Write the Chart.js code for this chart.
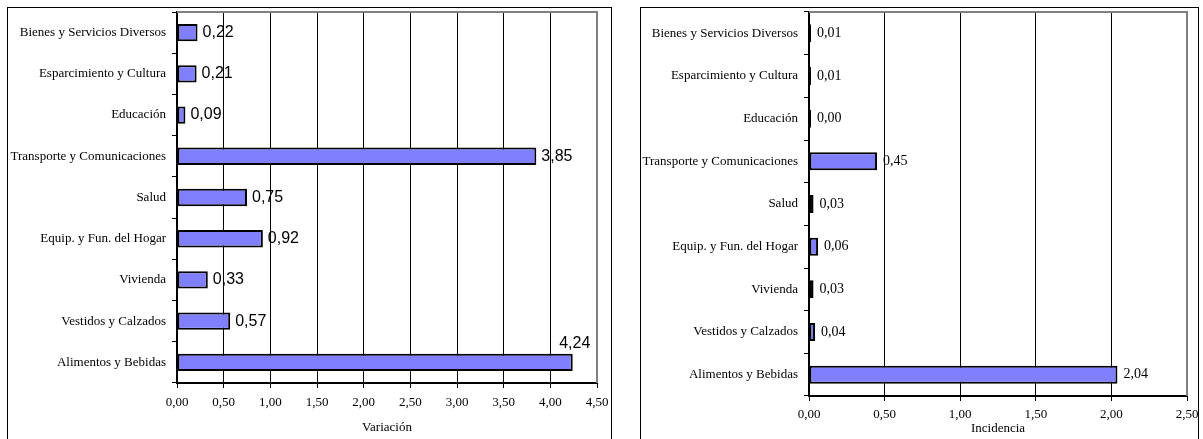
<!DOCTYPE html>
<html><head><meta charset="utf-8">
<script src="https://cdn.jsdelivr.net/npm/chart.js@4.4.1/dist/chart.umd.min.js"></script>
<style>
html,body{margin:0;padding:0;background:#fff;width:1203px;height:439px;overflow:hidden;}
.panel{position:absolute;border:1px solid #000;box-sizing:border-box;}
canvas{position:absolute;}
</style></head><body>
<div class="panel" style="left:7px;top:7px;width:605px;height:460px"></div>
<div class="panel" style="left:640px;top:7px;width:559px;height:460px"></div>
<canvas id="c1" width="602" height="431" style="left:8px;top:8px"></canvas>
<canvas id="c2" width="562" height="431" style="left:641px;top:8px"></canvas>
<script>
const categories = [
  "Bienes y Servicios Diversos",
  "Esparcimiento y Cultura",
  "Educación",
  "Transporte y Comunicaciones",
  "Salud",
  "Equip. y Fun. del Hogar",
  "Vivienda",
  "Vestidos y Calzados",
  "Alimentos y Bebidas"
];
const variacion = [0.22, 0.21, 0.09, 3.85, 0.75, 0.92, 0.33, 0.57, 4.24];
const incidencia = [0.01, 0.01, 0.00, 0.45, 0.03, 0.06, 0.03, 0.04, 2.04];
const variacionTicks = [0, 0.5, 1, 1.5, 2, 2.5, 3, 3.5, 4, 4.5];
const incidenciaTicks = [0, 0.5, 1, 1.5, 2, 2.5];

function fmt(v){ return v.toFixed(2).replace('.', ','); }

const valueLabels = {
  id: 'valueLabels',
  afterDatasetsDraw(chart, args, opts){
    const ctx = chart.ctx;
    const meta = chart.getDatasetMeta(0);
    const data = chart.data.datasets[0].data;
    ctx.save();
    ctx.font = opts.font;
    ctx.fillStyle = '#000';
    meta.data.forEach((el, i) => {
      const t = fmt(data[i]);
      const w = ctx.measureText(t).width;
      const x0 = Math.max(el.x, el.base);
      if (x0 + opts.offset + w > chart.chartArea.right) {
        ctx.textAlign = 'center';
        ctx.textBaseline = 'alphabetic';
        ctx.fillText(t, x0 + 2, el.y - el.height / 2 - 6);
      } else {
        ctx.textAlign = 'left';
        ctx.textBaseline = 'middle';
        ctx.fillText(t, x0 + opts.offset, el.y);
      }
    });
    ctx.restore();
  }
};

const plotBorder = {
  id: 'plotBorder',
  beforeDatasetsDraw(chart){
    const {ctx, chartArea: a} = chart;
    ctx.save();
    ctx.strokeStyle = '#808080';
    ctx.lineWidth = 2;
    ctx.beginPath();
    ctx.moveTo(a.left, a.top);
    ctx.lineTo(a.right, a.top);
    ctx.lineTo(a.right, a.bottom);
    ctx.stroke();
    ctx.restore();
  }
};

function makeChart(id, values, ticks, title, cfg){
  const serif = 'Liberation Serif';
  return new Chart(document.getElementById(id), {
    type: 'bar',
    data: {
      labels: categories,
      datasets: [{
        data: values,
        backgroundColor: '#8080FF',
        borderColor: '#000000',
        borderWidth: 2,
        borderSkipped: false,
        barPercentage: 0.42,
        categoryPercentage: 1,
        minBarLength: 2
      }]
    },
    plugins: [plotBorder, valueLabels],
    options: {
      indexAxis: 'y',
      responsive: false,
      animation: false,
      events: [],
      layout: { padding: { top: 4, right: cfg.padRight, bottom: 0, left: 0 } },
      plugins: {
        legend: { display: false },
        tooltip: { enabled: false },
        valueLabels: { font: cfg.labelFont, offset: cfg.labelOffset }
      },
      scales: {
        x: {
          type: 'linear',
          min: ticks[0],
          max: ticks[ticks.length - 1],
          afterBuildTicks(scale){ scale.ticks = ticks.map(v => ({ value: v })); },
          afterFit(scale){
            scale.height = cfg.xHeight;
            scale.paddingLeft = 0; scale.paddingRight = 0;
            scale.paddingTop = 0; scale.paddingBottom = 0;
          },
          grid: {
            color: (c) => c.index === ticks.length - 1 ? 'rgba(0,0,0,0)' : '#000',
            lineWidth: 1,
            tickColor: '#000',
            tickLength: 5,
            drawTicks: true
          },
          border: { color: '#000', width: 2 },
          ticks: {
            color: '#000',
            padding: cfg.tickPad,
            maxRotation: 0,
            font: { family: serif, size: 13 },
            callback: (v) => fmt(v)
          },
          title: {
            display: true,
            text: title,
            color: '#000',
            font: { family: serif, size: 13 },
            padding: { top: 0, bottom: cfg.titlePad }
          }
        },
        y: {
          afterFit(scale){
            scale.width = cfg.yWidth;
            scale.paddingLeft = 0; scale.paddingRight = 0;
            scale.paddingTop = 0; scale.paddingBottom = 0;
          },
          grid: {
            drawOnChartArea: false,
            drawTicks: true,
            tickLength: 5,
            tickColor: '#000',
            offset: true
          },
          border: { color: '#000', width: 2 },
          ticks: {
            color: '#000',
            padding: 6,
            font: { family: serif, size: 13 }
          }
        }
      }
    }
  });
}

makeChart('c1', variacion, variacionTicks, 'Variación', {
  padRight: 13, xHeight: 56, yWidth: 169, tickPad: 7, titlePad: 4,
  labelFont: '16px "Liberation Sans"', labelOffset: 5
});
makeChart('c2', incidencia, incidenciaTicks, 'Incidencia', {
  padRight: 16, xHeight: 43, yWidth: 168, tickPad: 6, titlePad: 3,
  labelFont: '14px "Liberation Serif"', labelOffset: 6
});
</script>
</body></html>
